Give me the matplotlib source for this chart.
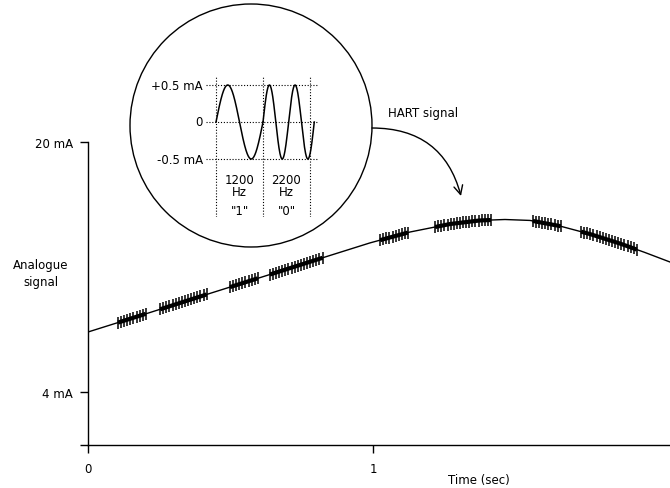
import numpy as np
import matplotlib
matplotlib.use("Agg")
import matplotlib.pyplot as plt
from matplotlib.patches import Ellipse, FancyArrowPatch

# ---------------- data ----------------
curve_t = [0.0, 0.218, 0.421, 0.621, 0.832, 0.989, 1.130, 1.270, 1.375,
           1.463, 1.551, 1.656, 1.761, 1.867, 1.954, 2.042]
curve_mA = [7.84, 9.09, 10.27, 11.42, 12.64, 13.54, 14.24, 14.75, 14.98,
            15.04, 14.98, 14.62, 14.11, 13.50, 12.93, 12.32]
burst_start = [0.105, 0.253, 0.498, 0.638, 1.025, 1.218, 1.561, 1.730]
burst_end = [0.207, 0.421, 0.603, 0.832, 1.123, 1.418, 1.667, 1.926]
x_ticks = [0, 1]
x_labels = ["0", "1"]
y_ticks = [4, 20]
y_labels = ["4 mA", "20 mA"]

hart_freqs = [1200, 2200]        # Hz
hart_cycles = [1, 2]
hart_amp = 0.5                   # mA
bit_labels = ['"1"', '"0"']
freq_labels = ["1200", "2200"]
inset_yticks = [0.5, 0, -0.5]
inset_ylabels = ["+0.5 mA", "0", "-0.5 mA"]

# ---------------- layout ----------------
W, H = 670, 489
FS = 8.5
plt.rcParams["font.family"] = ["DejaVu Sans"]
plt.rcParams["font.size"] = FS


def fx(x):
    return x / W


def fy(y):
    return 1 - y / H


fig = plt.figure(figsize=(W / 100, H / 100), dpi=100)

# main axes
ax = fig.add_axes([fx(88), fy(446), (670 - 88) / W, (446 - 143) / H])
xmax = (670 - 88) / 285
ymin = 4 - (446 - 393) / 15.625
ax.set_xlim(0, xmax)
ax.set_ylim(ymin, 20)
for s in ["top", "right"]:
    ax.spines[s].set_visible(False)
for s in ["left", "bottom"]:
    ax.spines[s].set_linewidth(1.0)

ax.plot(curve_t, curve_mA, color="k", lw=1.0)
step = 3.1 / 285
for s, e in zip(burst_start, burst_end):
    t = np.arange(s, e + 1e-9, step)
    y = np.interp(t, curve_t, curve_mA)
    ax.plot(t, y, color="k", lw=3.0, solid_capstyle="butt")
    ax.plot(t, y, ls="none", marker="|", ms=8.5, mew=1.1, color="k")

ax.set_xticks(x_ticks)
ax.set_xticklabels(x_labels)
ax.set_yticks([ymin] + y_ticks)
ax.set_yticklabels([""] + y_labels)
ax.tick_params(axis="x", direction="out", length=6, width=1, pad=6)
ax.tick_params(axis="y", direction="out", length=6, width=1, pad=5)

fig.text(fx(479), fy(481), "Time (sec)", ha="center", va="center")
fig.text(fx(41), fy(274), "Analogue\nsignal", ha="center", va="center",
         linespacing=1.45)

# circle
circ = Ellipse((fx(251), fy(126.5)), 242 / W, 243 / H,
               transform=fig.transFigure, fill=False, ec="k", lw=1.0)
fig.add_artist(circ)

# inset axes (time in ms)
pxms = 56.4
iax = fig.add_axes([fx(206), fy(218), 112 / W, 141 / H])
x0 = -(216 - 206) / pxms
x1 = (318 - 216) / pxms
iax.set_xlim(x0, x1)
iax.set_ylim(-0.5 - (218 - 160) / 74, 0.5 + (86 - 77) / 74)
iax.axis("off")

bit_ms = 1000.0 / hart_freqs[0]
dot = (0, (1, 1.6))
for v in inset_yticks:
    iax.axhline(v, color="k", lw=0.8, ls=dot)
for i in range(len(hart_freqs) + 1):
    iax.axvline(i * bit_ms, color="k", lw=0.8, ls=dot)

t0 = 0.0
for f, c in zip(hart_freqs, hart_cycles):
    dur = c * 1000.0 / f
    tt = np.linspace(0, dur, 200)
    iax.plot(t0 + tt, hart_amp * np.sin(2 * np.pi * f / 1000.0 * tt),
             color="k", lw=1.1)
    t0 += bit_ms

for v, lab in zip(inset_yticks, inset_ylabels):
    iax.text(x0 - 3 / pxms, v, lab, ha="right", va="center", clip_on=False)

for i, (fl, bl) in enumerate(zip(freq_labels, bit_labels)):
    cx = (i + 0.5) * bit_ms
    iax.text(cx, -0.775, fl, ha="center", va="center")
    iax.text(cx, -0.945, "Hz", ha="center", va="center")
    iax.text(cx, -1.19, bl, ha="center", va="center")

# arrow + label
arr = FancyArrowPatch(posA=(fx(372), fy(129)), posB=(fx(461), fy(197)),
                      transform=fig.transFigure,
                      connectionstyle="angle3,angleA=0,angleB=105",
                      arrowstyle="->", mutation_scale=16, lw=1.0, color="k",
                      shrinkA=0, shrinkB=0)
fig.add_artist(arr)
fig.text(fx(423), fy(114), "HART signal", ha="center", va="center")

fig.savefig("out.png", dpi=100)
